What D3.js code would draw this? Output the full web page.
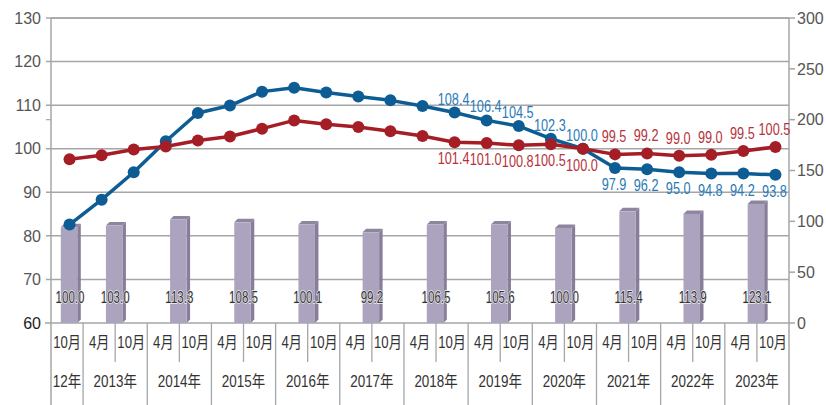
<!DOCTYPE html>
<html><head><meta charset="utf-8">
<script src="https://cdn.jsdelivr.net/npm/d3@7"></script>
<style>
html,body{margin:0;padding:0;background:#fff;}
svg{display:block;}
</style></head>
<body><svg id="c" width="826" height="405"></svg>
<script>
// ---- data ----
const months = ["10月","4月","10月","4月","10月","4月","10月","4月","10月","4月","10月","4月","10月","4月","10月","4月","10月","4月","10月","4月","10月","4月","10月"];
const years = ["12年","2013年","2014年","2015年","2016年","2017年","2018年","2019年","2020年","2021年","2022年","2023年"];
const yearSpan = [1,2,2,2,2,2,2,2,2,2,2,2];
// plotted positions (read against the left axis)
const blueValues = [82.6,88.3,94.6,101.7,108.2,109.9,113.1,114.0,112.9,112.0,111.1,109.8,108.3,106.5,105.2,102.3,100.0,95.6,95.3,94.6,94.3,94.3,94.0];
const redValues  = [97.6,98.5,99.8,100.5,101.9,102.8,104.6,106.5,105.6,105.0,104.0,102.9,101.5,101.3,100.8,101.0,100.0,98.7,98.9,98.4,98.6,99.5,100.4];
// printed value labels
const blueLabels = [null,null,null,null,null,null,null,null,null,null,null,null,"108.4","106.4","104.5","102.3","100.0","97.9","96.2","95.0","94.8","94.2","93.8"];
const redLabels  = [null,null,null,null,null,null,null,null,null,null,null,null,"101.4","101.0","100.8","100.5","100.0","99.5","99.2","99.0","99.0","99.5","100.5"];
const barValues = [94.1,95.8,101.7,99.0,96.8,89.2,96.8,96.8,93.5,109.8,107.3,117.0];
const barLabels = ["100.0","103.0","113.3","108.5","100.1","99.2","106.5","105.6","100.0","115.4","113.9","123.1"];
const leftTicks = [60,70,80,90,100,110,120,130];
const rightTicks = [0,50,100,150,200,250,300];
const flipFrom = 17;  // from here red labels above, blue below

// ---- layout ----
const svg = d3.select("#c");
const L = 51, R = 789, T = 18, B = 323, H = 405;
const x = d3.scaleBand().domain(d3.range(months.length)).range([L, R]).padding(0);
const yL = d3.scaleLinear().domain([60,130]).range([B, T]);
const yR = d3.scaleLinear().domain([0,300]).range([B, T]);
const px = i => x(i) + x.bandwidth()/2 + 2.5;
const font = "'Liberation Sans','Noto Sans CJK JP',sans-serif";
const gridC = "#a6a6a6";

function stext(g, tx, ty, str, size, sx, fill, anchor){
  const t = g.append("text").attr("transform", `translate(${tx},${ty}) scale(${sx},1)`)
    .attr("dy","0.36em").attr("text-anchor", anchor||"middle")
    .attr("font-family", font).attr("font-size", size).attr("fill", fill).text(str);
  return t;
}

// gridlines
svg.append("g").selectAll("line").data(leftTicks.slice(1)).join("line")
  .attr("x1", L-5).attr("x2", R).attr("y1", d=>yL(d)).attr("y2", d=>yL(d))
  .attr("stroke", gridC).attr("stroke-width", 1.5);

// left axis labels + tick at 60
svg.append("g").selectAll("text").data(leftTicks).join("text")
  .attr("x", 41).attr("y", d=>yL(d)).attr("dy","0.36em").attr("text-anchor","end")
  .attr("font-family", font).attr("font-size", 16).attr("fill", d=>d===60?"#222":"#555").text(d=>d);
svg.append("line").attr("x1",L-6).attr("x2",L).attr("y1",B).attr("y2",B).attr("stroke",gridC).attr("stroke-width",1.5);
svg.append("line").attr("x1",L-5).attr("x2",L).attr("y1",yR(200)).attr("y2",yR(200)).attr("stroke",gridC).attr("stroke-width",1.2);

// right axis ticks + labels
svg.append("g").selectAll("line").data(rightTicks).join("line")
  .attr("x1", R).attr("x2", R+6).attr("y1", d=>yR(d)).attr("y2", d=>yR(d))
  .attr("stroke", gridC).attr("stroke-width", 1.5);
svg.append("g").selectAll("text").data(rightTicks).join("text")
  .attr("x", 797).attr("y", d=>yR(d)).attr("dy","0.36em").attr("text-anchor","start")
  .attr("font-family", font).attr("font-size", 16).attr("fill","#555").text(d=>d);

// x-axis structure
let cum = 0;
const yearInfo = years.map((y,k)=>{ const s = cum; cum += yearSpan[k]; return {name:y, start:s, end:cum}; });
const xEdge = i => i<months.length ? x(i) : R;
const shortLines = [];
yearInfo.forEach(d=>{ for(let i=d.start+1;i<d.end;i++) shortLines.push(i); });
svg.append("g").selectAll("line").data(shortLines).join("line")
  .attr("x1", i=>x(i)).attr("x2", i=>x(i)).attr("y1", B).attr("y2", 362)
  .attr("stroke", gridC).attr("stroke-width", 1.3);
svg.append("g").selectAll("line").data(yearInfo.slice(1)).join("line")
  .attr("x1", d=>x(d.start)).attr("x2", d=>x(d.start)).attr("y1", B).attr("y2", H)
  .attr("stroke", gridC).attr("stroke-width", 1.3);
svg.append("line").attr("x1",L).attr("x2",L).attr("y1",T).attr("y2",H).attr("stroke",gridC).attr("stroke-width",1.5);
svg.append("line").attr("x1",R).attr("x2",R).attr("y1",T).attr("y2",H).attr("stroke",gridC).attr("stroke-width",1.5);
svg.append("line").attr("x1",L).attr("x2",R).attr("y1",T).attr("y2",T).attr("stroke",gridC).attr("stroke-width",1.5);
svg.append("line").attr("x1",L).attr("x2",R).attr("y1",B).attr("y2",B).attr("stroke",gridC).attr("stroke-width",1.5);

// month + year labels
const xl = svg.append("g");
months.forEach((m,i)=> stext(xl, x(i)+x.bandwidth()/2, 342, m, 16, 0.82, "#333"));
yearInfo.forEach(d=> stext(xl, (x(d.start)+xEdge(d.end))/2, 381, d.name, 16, 0.84, "#333"));

// bars (3D)
const bw = 16.5, dep = 3.5;
const barCx = k => { const d = yearInfo[k]; const c = (x(d.start)+xEdge(d.end))/2; return d.end-d.start===1 ? c+2 : c-1; };
const bars = svg.append("g");
barValues.forEach((v,k)=>{
  const x0 = barCx(k)-bw/2, x1 = x0+bw, yt = yR(v), yb = yR(0);
  bars.append("polygon").attr("points", `${x1},${yt} ${x1+dep},${yt-dep} ${x1+dep},${yb-dep} ${x1},${yb}`).attr("fill","#877f99");
  bars.append("polygon").attr("points", `${x0},${yt} ${x0+dep},${yt-dep} ${x1+dep},${yt-dep} ${x1},${yt}`).attr("fill","#8e869f");
  bars.append("rect").attr("x",x0).attr("y",yt).attr("width",bw).attr("height",yb-yt).attr("fill","#aca3bf");
});
const bl = svg.append("g");
barLabels.forEach((s,k)=> stext(bl, barCx(k)+1, 297, s, 16.5, 0.7, "#333")
  .attr("stroke","#f4f4f4").attr("stroke-width",1.3).attr("paint-order","stroke"));

// lines
function drawSeries(vals, lineC){
  const g = svg.append("g");
  g.append("path").datum(vals).attr("fill","none").attr("stroke",lineC).attr("stroke-width",3.5)
    .attr("stroke-linejoin","round")
    .attr("d", d3.line().x((d,i)=>px(i)).y(d=>yL(d)));
  g.selectAll("circle").data(vals).join("circle").attr("cx",(d,i)=>px(i)).attr("cy",d=>yL(d)).attr("r",6).attr("fill",lineC);
}
drawSeries(blueValues, "#0d5d94");
drawSeries(redValues, "#a51e25");

// line value labels
const lbl = svg.append("g");
blueLabels.forEach((s,i)=>{
  if(!s) return;
  const v = blueValues[i];
  stext(lbl, px(i)-1, i<flipFrom ? yL(v)-14 : yL(v)+16, s, 16.5, 0.77, "#2a7ab8");
});
redLabels.forEach((s,i)=>{
  if(!s) return;
  const v = redValues[i];
  stext(lbl, px(i)-1, i>=flipFrom ? yL(v)-18 : yL(v)+16, s, 16.5, 0.77, "#b7333b");
});
</script></body></html>
